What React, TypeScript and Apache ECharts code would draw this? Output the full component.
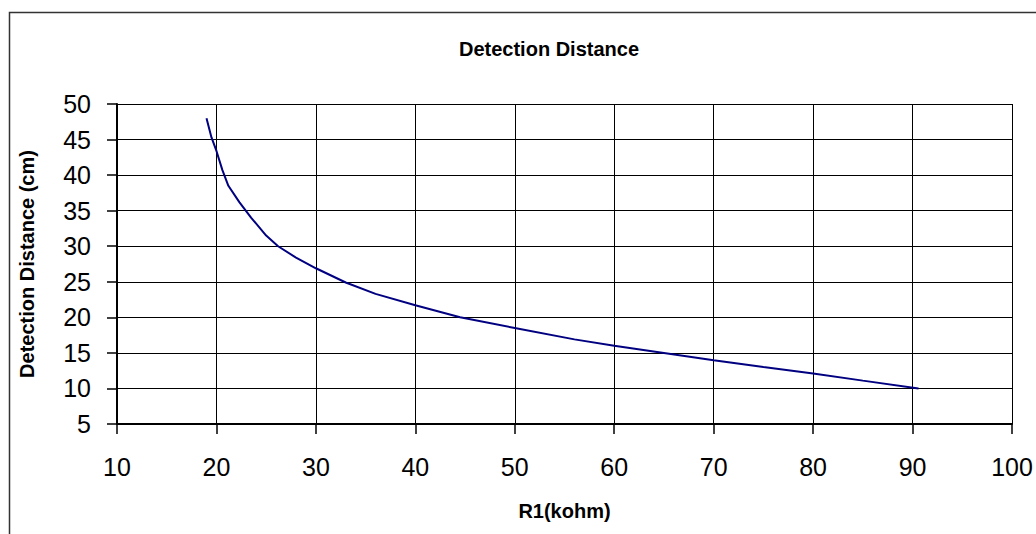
import React, { useEffect, useRef } from "react";
import * as echarts from "echarts";

const r1Kohm = [19, 19.5, 20, 20.6, 21.2, 22.3, 23.5, 25.0, 26.2, 28.0, 30.0, 33.0, 36.0, 40.0, 44.5, 50.0, 56.0, 60.0, 65.0, 70.0, 75.0, 80.0, 85.0, 90.6];
const distanceCm = [48.0, 45.3, 43.4, 40.7, 38.5, 36.2, 34.0, 31.5, 30.0, 28.4, 26.9, 24.9, 23.3, 21.7, 20.0, 18.5, 16.9, 16.0, 15.0, 13.95, 13.0, 12.1, 11.1, 10.0];

const titleText = "Detection Distance";
const xName = "R1(kohm)";
const yName = "Detection Distance (cm)";

export default function App() {
  const ref = useRef<HTMLDivElement>(null);
  useEffect(() => {
    if (!ref.current) return;
    const chart = echarts.init(ref.current, null, { renderer: "svg" });
    const font = "'Liberation Sans', Arial, sans-serif";
    chart.setOption({
      animation: false,
      backgroundColor: "#fff",
      textStyle: { fontFamily: font },
      title: {
        text: titleText,
        left: 549,
        top: 39,
        textAlign: "center",
        padding: 0,
        textStyle: { fontFamily: font, fontSize: 20, fontWeight: "bold", color: "#000" },
      },
      graphic: [
        {
          type: "rect",
          shape: { x: 9.5, y: 12.5, width: 1200, height: 700 },
          style: { fill: "none", stroke: "#333", lineWidth: 1.5 },
          silent: true,
        },
      ],
      grid: { left: 117, right: 24, top: 104, bottom: 110, containLabel: false },
      xAxis: {
        type: "value",
        min: 10,
        max: 100,
        interval: 10,
        name: xName,
        nameLocation: "middle",
        nameGap: 77,
        nameTextStyle: { fontFamily: font, fontSize: 20, fontWeight: "bold", color: "#000" },
        axisLine: { show: true, onZero: false, lineStyle: { color: "#000", width: 2 } },
        axisTick: { show: true, inside: false, length: 10, lineStyle: { color: "#000", width: 1.5 } },
        axisLabel: { fontFamily: font, fontSize: 25, color: "#000", margin: 30 },
        splitLine: { show: true, lineStyle: { color: "#000", width: 1 } },
      },
      yAxis: {
        type: "value",
        min: 5,
        max: 50,
        interval: 5,
        name: yName,
        nameLocation: "middle",
        nameGap: 80,
        nameTextStyle: { fontFamily: font, fontSize: 20, fontWeight: "bold", color: "#000" },
        axisLine: { show: true, onZero: false, lineStyle: { color: "#000", width: 2 } },
        axisTick: { show: true, inside: false, length: 10, lineStyle: { color: "#000", width: 1.5 } },
        axisLabel: { fontFamily: font, fontSize: 25, color: "#000", margin: 26 },
        splitLine: { show: true, lineStyle: { color: "#000", width: 1 } },
      },
      series: [
        {
          type: "line",
          data: r1Kohm.map((x, i) => [x, distanceCm[i]]),
          showSymbol: false,
          symbol: "none",
          lineStyle: { color: "#000080", width: 2 },
          itemStyle: { color: "#000080" },
        },
      ],
    });
    return () => chart.dispose();
  }, []);
  return (
    <div
      ref={ref}
      style={{ position: "absolute", left: 0, top: 0, width: 1036, height: 534 }}
    />
  );
}
